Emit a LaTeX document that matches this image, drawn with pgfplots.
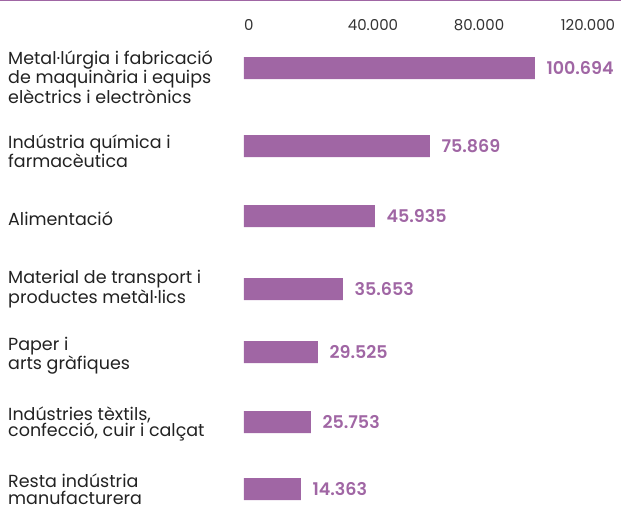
\documentclass[border=0pt]{standalone}
\usepackage{fontspec}
\setmainfont{Poppins}
\newfontfamily\tickfont{Poppins}
\usepackage{pgfplots}
\pgfplotsset{compat=1.18}
\definecolor{barpurple}{HTML}{A066A4}
\definecolor{labelgray}{HTML}{222222}
\definecolor{tickgray}{HTML}{333333}

\begin{document}
\begin{tikzpicture}
  \path[use as bounding box] (0pt,0pt) rectangle (621pt,-510pt);
  \draw[barpurple, line width=1.5pt] (0pt,-0.75pt) -- (621pt,-0.75pt);

  \begin{axis}[
    at={(244pt,-39pt)}, anchor=north west,
    scale only axis,
    width=344pt, height=471pt,
    xbar, bar width=22pt,
    xmin=0, xmax=120000,
    ymin=39, ymax=510,
    y dir=reverse,
    axis line style={draw=none},
    major tick length=0pt,
    scaled x ticks=false,
    % label positions as drawn in the reference
    xtick={1700,45000,82000,120000},
    xticklabels={0,40.000,80.000,120.000},
    xticklabel pos=top,
    xticklabel style={font=\tickfont\fontsize{15}{15}\selectfont, text=tickgray, yshift=5pt},
    ytick={77,151,219,289,356,424,489},
    yticklabels={
      {Metal·lúrgia i fabricació\\de maquinària i equips\\elèctrics i electrònics},
      {Indústria química i\\farmacèutica},
      {Alimentació},
      {Material de transport i\\productes metàl·lics},
      {Paper i\\arts gràfiques},
      {Indústries tèxtils,\\confecció, cuir i calçat},
      {Resta indústria\\manufacturera}
    },
    yticklabel style={anchor=west, align=left, inner sep=0pt, xshift=-236pt,
      font=\fontsize{17.5}{16.5}\selectfont, text=labelgray},
    point meta=explicit symbolic,
    nodes near coords,
    nodes near coords style={anchor=west, xshift=8pt, text=barpurple,
      font=\fontspec{Poppins SemiBold}\fontsize{17.5}{17.5}\selectfont},
    clip=false,
  ]
  % bar lengths as drawn, labels as printed
  \addplot[fill=barpurple, draw=none] coordinates {
    (101500,68) [100.694]
    (64880,146) [75.869]
    (45690,216) [45.935]
    (34530,289) [35.653]
    (25810,352) [29.525]
    (23370,422) [25.753]
    (19880,489) [14.363]
  };
  \end{axis}
\end{tikzpicture}
\end{document}
